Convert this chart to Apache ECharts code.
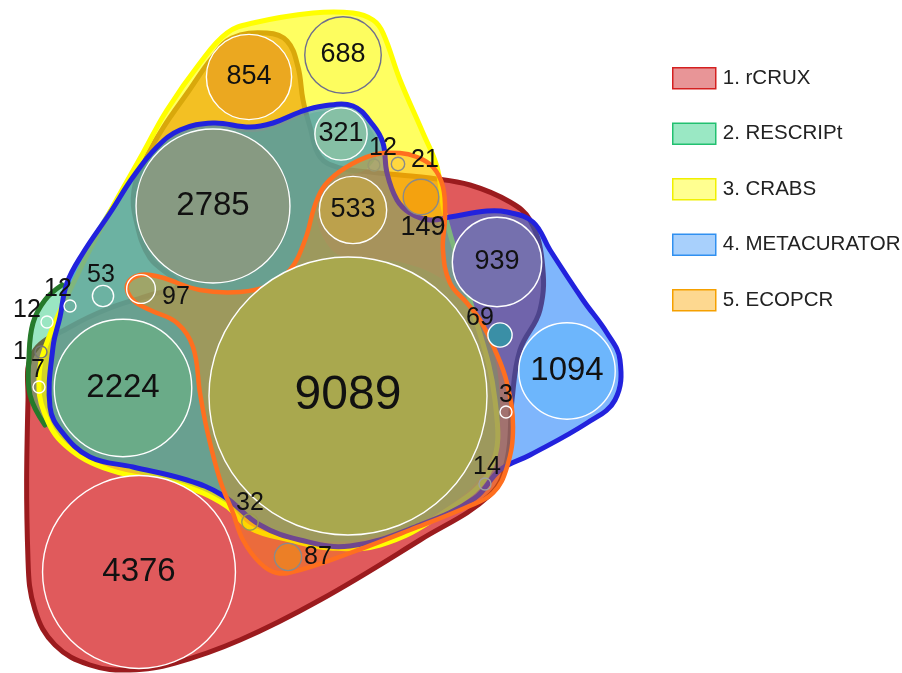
<!DOCTYPE html>
<html>
<head>
<meta charset="utf-8">
<script src="https://cdn.jsdelivr.net/npm/echarts@6/dist/echarts.min.js"></script>
<style>
  html, body { margin: 0; padding: 0; background: #ffffff; }
  #chart { width: 902px; height: 673px; }
</style>
</head>
<body>
<div id="chart"></div>
<script>
// Reference databases compared in the Euler diagram
const setNames = ['1. rCRUX', '2. RESCRIPt', '3. CRABS', '4. METACURATOR', '5. ECOPCR'];

// Number of sequences in each intersection region (one circle per region)
const regionCounts = [4376, 2224, 2785, 9089, 854, 688, 321, 533, 939, 1094,
                      149, 97, 87, 69, 53, 32, 21, 14, 12, 12, 12, 7, 3, 1];

// ---- layout (diagram coordinates, styling) ----
// [centre x, centre y, fill, ring colour, label dx, label dy]
const circleLayout = [
  [139, 572, '#e05a5c', '#ffffff', 0, 0],
  [123, 388, '#6aab88', '#ffffff', 0, 0],
  [213, 206, '#879a82', '#ffffff', 0, 0],
  [348, 396, '#a9a84e', '#ffffff', 0, 0],
  [249, 77,  '#eba820', '#ffffff', 0, 0],
  [343, 55,  '#fdfd5f', '#6e6e8e', 0, 0],
  [341, 134, '#86c0a5', '#ffffff', 0, 0],
  [353, 210, '#bca14c', '#ffffff', 0, 0],
  [497, 262, '#7570ae', '#ffffff', 0, 0],
  [567, 371, '#6db6fc', '#ffffff', 0, 0],
  [421, 197, '#f4a20f', '#8a8a8a', 2, 31],
  [141, 289, null, '#ffffff', 35, 8],
  [288, 557, '#ec7f26', '#8a8a8a', 30, 0],
  [500, 335, '#3a8fa6', '#ffffff', -20, -17],
  [103, 296, null, '#ffffff', -2, -21],
  [250, 522, null, '#9a9a50', 0, -19],
  [398, 164, null, '#8a8a8a', 27, -4],
  [485, 484, null, '#a0a0a0', 2, -17],
  [374, 165, null, '#9a9a70', 9, -17],
  [70, 306,  null, '#ffffff', -12, -17],
  [47, 322,  null, '#ffffff', -20, -12],
  [39, 387,  null, '#ffffff', -1, -17],
  [506, 412, null, '#ffffff', 0, -17],
  [41, 352,  null, '#777777', -21, 0]
];

// Set outlines (diagram coordinates), smoothed when drawn
const setOutlines = [
  // rCRUX
  [[28,400],[33,353],[70,327],[110,308],[150,295],[178,285],[150,258],[136,220],[134,190],[145,160],
   [163,128],[188,92],[212,58],[232,38],[267,33],[287,41],[298,67],[303,100],[310,127],[320,157],[340,168],
   [370,172],[400,175],[430,178],[470,185],[510,202],[530,220],[542,260],[540,310],[520,350],[512,400],
   [507,460],[490,495],[420,540],[320,600],[240,640],[175,663],[130,670],[90,665],[55,645],[35,610],[28,560]],
  // RESCRIPt
  [[45,425],[30,395],[29,357],[33,323],[45,300],[62,285],[80,258],[105,215],[130,180],[155,152],[180,135],
   [213,128],[250,132],[273,128],[300,117],[323,111],[353,111],[370,128],[378,150],[365,170],[335,178],
   [318,200],[322,235],[345,258],[400,262],[450,285],[485,330],[500,400],[490,460],[450,505],[380,535],
   [310,540],[250,520],[200,490],[130,470],[80,450]],
  // CRABS
  [[143,153],[167,110],[200,63],[227,33],[253,23],[313,13],[353,13],[373,20],[383,33],[400,80],[423,133],
   [437,167],[445,215],[470,300],[495,400],[490,470],[440,515],[380,545],[330,548],[290,540],[250,528],
   [225,505],[180,485],[110,470],[65,445],[44,412],[39,378],[46,345],[70,290],[100,230]],
  // METACURATOR
  [[60,317],[53,347],[50,407],[62,432],[90,457],[133,467],[187,480],[222,495],[260,525],[300,540],[350,546],
   [420,525],[475,498],[500,470],[530,455],[587,423],[615,400],[620,360],[607,333],[583,300],[550,250],
   [533,222],[507,212],[487,211],[450,217],[430,220],[410,213],[397,200],[387,173],[383,143],[373,125],
   [353,106],[323,106],[300,112],[273,123],[250,127],[213,123],[180,130],[157,147],[133,177],[110,213],
   [83,253],[67,283]],
  // ECOPCR
  [[127,285],[140,275],[160,277],[200,290],[240,292],[270,285],[290,270],[305,240],[315,205],[325,185],
   [345,168],[373,155],[400,153],[417,157],[433,167],[443,187],[445,217],[443,250],[450,283],[467,303],
   [480,320],[495,350],[507,383],[513,427],[507,467],[493,493],[467,507],[410,530],[350,553],[300,570],
   [277,573],[260,563],[243,540],[233,513],[220,480],[207,430],[200,393],[193,347],[177,323],[150,310],[133,300]]
];
// part of an outline that is stroked (point index range); null = whole closed outline
const strokeRange = [null, [0, 5], null, null, null];

const setFill   = ['rgb(224,90,92)', 'rgba(30,200,120,0.45)', 'rgba(255,255,0,0.62)', 'rgba(0,110,250,0.5)', 'rgba(255,140,0,0.35)'];
const setStroke = ['#9b1b1e', '#267a2a', '#ffff00', '#2222dd', '#ff6f1f'];
const setWidth  = [5, 5, 5, 5, 4.5];
const legendFill   = ['#e89597', '#9ae8c4', '#ffff90', '#a8d0fc', '#fdd890'];
const legendBorder = ['#d42020', '#22c070', '#f0f000', '#3090f0', '#f5a000'];

// circle area proportional to count, with a minimum visible size
const PX_PER_SQRT = 1.458;
function diameter(v) { return Math.max(12, 2 * PX_PER_SQRT * Math.sqrt(v)); }
function labelSize(v) {
  if (v >= 9000) return 48;
  if (v >= 1000) return 33;
  if (v >= 100) return 27;
  return 25;
}

const FONT = '"Liberation Sans", Arial, Helvetica, sans-serif';

const blobSeries = setNames.map((name, i) => ({
  type: 'custom',
  name: name,
  coordinateSystem: 'cartesian2d',
  clip: false,
  silent: true,
  z: 1,
  itemStyle: { color: legendFill[i] },
  data: [[0, 0]],
  renderItem: function (params, api) {
    const pts = setOutlines[i].map(p => api.coord(p));
    const range = strokeRange[i];
    if (!range) {
      return {
        type: 'polygon',
        shape: { points: pts, smooth: 0.4 },
        style: { fill: setFill[i], stroke: setStroke[i], lineWidth: setWidth[i], lineJoin: 'round' }
      };
    }
    return {
      type: 'group',
      children: [
        { type: 'polygon', shape: { points: pts, smooth: 0.4 }, style: { fill: setFill[i], stroke: null } },
        { type: 'polyline', shape: { points: pts.slice(range[0], range[1] + 1), smooth: 0.4 },
          style: { fill: null, stroke: setStroke[i], lineWidth: setWidth[i], lineCap: 'round' } }
      ]
    };
  }
}));

const circleSeries = {
  type: 'scatter',
  silent: true,
  z: 10,
  emphasis: { disabled: true },
  data: regionCounts.map((v, i) => {
    const L = circleLayout[i];
    return {
      value: [L[0], L[1], v],
      symbolSize: diameter(v),
      itemStyle: { color: L[2] || 'rgba(0,0,0,0)', borderColor: L[3], borderWidth: 1.4, opacity: 1 },
      label: {
        show: true, position: 'inside', offset: [L[4], L[5]],
        fontSize: labelSize(v), color: '#111', fontFamily: FONT,
        formatter: p => String(p.value[2])
      }
    };
  })
};

const chart = echarts.init(document.getElementById('chart'), null, { renderer: 'canvas' });
chart.setOption({
  animation: false,
  backgroundColor: '#ffffff',
  grid: { left: 0, right: 0, top: 0, bottom: 0 },
  xAxis: { type: 'value', min: 0, max: 902, show: false },
  yAxis: { type: 'value', min: 0, max: 673, inverse: true, show: false },
  legend: {
    orient: 'vertical',
    left: 667, top: 62,
    itemWidth: 43, itemHeight: 21, itemGap: 33,
    icon: 'rect',
    selectedMode: false,
    textStyle: { fontSize: 20.5, color: '#222', fontFamily: FONT, padding: [0, 0, 0, 2] },
    data: setNames.map((n, i) => ({
      name: n,
      itemStyle: { color: legendFill[i], borderColor: legendBorder[i], borderWidth: 1.5 }
    }))
  },
  series: blobSeries.concat([circleSeries])
});
</script>
</body>
</html>
